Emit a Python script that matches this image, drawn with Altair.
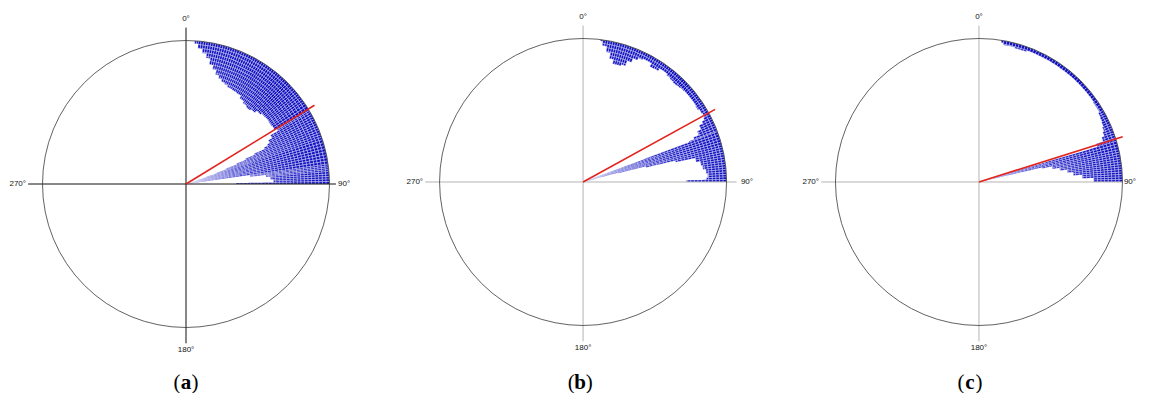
import altair as alt
import pandas as pd
import numpy as np

# ---------------- data ----------------
PANELS = ["a", "b", "c"]
DIR_LABELS = ["0°", "90°", "180°", "270°"]

# bin edges (degrees clockwise from north) and inner radius of the filled band
# (fraction of circle radius) for each bin; the band reaches the circle.
ANG_A = [3.5, 5, 7, 9, 11, 13, 15, 17, 19, 21, 23, 26, 29, 32, 35, 38, 41, 44, 47,
         50, 53, 56, 58.5, 60, 62, 64, 65, 66, 67, 68, 69, 70, 71, 72, 82, 83.5, 85,
         87, 89, 90]
RIN_A = [0.98, 0.95, 0.92, 0.89, 0.85, 0.82, 0.79, 0.77, 0.755, 0.745, 0.735, 0.73,
         0.725, 0.705, 0.69, 0.68, 0.69, 0.71, 0.72, 0.725, 0.72, 0.725, 0.74, 0.68,
         0.65, 0.63, 0.6, 0.52, 0.45, 0.38, 0.3, 0.22, 0.15, 0.03, 0.45, 0.56, 0.59,
         0.61, 0.35]

ANG_B = [7, 8, 10, 12, 14, 16, 18, 20, 22, 24, 26, 28, 30, 32, 34, 36, 38, 40, 42,
         44, 46, 48, 50, 52, 54, 56, 58, 60, 62, 63, 64, 66, 68, 69, 69.5, 75, 76,
         77, 78, 80, 82, 84, 86, 88, 89, 90]
RIN_B = [0.99, 0.96, 0.92, 0.88, 0.85, 0.85, 0.86, 0.9, 0.93, 0.945, 0.955, 0.955,
         0.93, 0.935, 0.955, 0.955, 0.945, 0.94, 0.935, 0.94, 0.945, 0.95, 0.95,
         0.95, 0.95, 0.945, 0.955, 0.96, 0.95, 0.93, 0.9, 0.87, 0.83, 0.79, 0.03,
         0.25, 0.45, 0.66, 0.8, 0.83, 0.84, 0.86, 0.87, 0.86, 0.72]

ANG_C = [9, 10, 15, 20, 30, 40, 50, 55, 60, 62, 64, 66, 68, 70, 72, 73.5, 77, 78,
         80, 82, 84, 86, 88, 90]
RIN_C = [0.985, 0.97, 0.965, 0.975, 0.975, 0.975, 0.975, 0.97, 0.96, 0.955, 0.95,
         0.94, 0.93, 0.91, 0.86, 0.03, 0.45, 0.52, 0.57, 0.62, 0.66, 0.72, 0.8]

MEAN_DIR = [58.5, 61.2, 72.5]   # red line direction (deg)

# ---------------- layout (pixels / units) ----------------
PX = 143.5                      # pixels per unit radius
W, H = 1133, 385
CX = [0.0, 2.767, 5.526]
CY = [0.0, 0.014, 0.014]
AX_RIGHT = [1.045, 1.07, 1.0]   # right end of horizontal axis line
LAB_RIGHT = [1.06, 1.10, 1.01]  # left edge of the 90° label
X0 = -(186 - 8) / PX
X1 = X0 + W / PX
Y1 = (184 - 8) / PX
Y0 = Y1 - H / PX
CELL_DEG = 1.25                 # texture grid of the dotted fill
CELL_R = 0.025

xs = alt.Scale(domain=[X0, X1], zero=False, nice=False)
ys = alt.Scale(domain=[Y0, Y1], zero=False, nice=False)
ts = alt.Scale(domain=[0, 360], range=[0, 2 * np.pi], zero=False, nice=False)
rs = alt.Scale(type="linear", domain=[0, 1], range=[0, PX], zero=True, nice=False)

# ---------------- tables ----------------
cell_rows = []
for p, ang, rin, cx, cy in zip(PANELS, [ANG_A, ANG_B, ANG_C], [RIN_A, RIN_B, RIN_C], CX, CY):
    for i in range(len(rin)):
        a0, a1 = ang[i], ang[i + 1]
        n = max(1, int(np.ceil((a1 - a0) / CELL_DEG - 1e-9)))
        tedges = [a0 + (a1 - a0) * k / n for k in range(n + 1)]
        redges = [1.0]
        while redges[-1] - CELL_R > rin[i] + 1e-9:
            redges.append(redges[-1] - CELL_R)
        redges.append(rin[i])
        for k in range(n):
            for j in range(len(redges) - 1):
                cell_rows.append(dict(panel=p, cx=cx, cy=cy, t0=tedges[k], t1=tedges[k + 1],
                                      rout=redges[j], rin=redges[j + 1]))
cells = pd.DataFrame(cell_rows)

circ = pd.DataFrame(dict(panel=PANELS, cx=CX, cy=CY, t0=[0] * 3, t1=[360] * 3, r=[1.0] * 3))

ax_rows = []
axcol = ["#111111", "#b4b4b4", "#b4b4b4"]
for p, cx, cy, c, ar in zip(PANELS, CX, CY, axcol, AX_RIGHT):
    ax_rows.append(dict(panel=p, x=cx - 1.10, y=cy, x2=cx + ar, y2=cy, col=c))
    ax_rows.append(dict(panel=p, x=cx, y=cy + 1.09, x2=cx, y2=cy - 1.11, col=c))
axes_df = pd.DataFrame(ax_rows)

red = pd.DataFrame(dict(
    panel=PANELS,
    x=CX, y=CY,
    x2=[cx + 1.05 * np.sin(np.radians(d)) for cx, d in zip(CX, MEAN_DIR)],
    y2=[cy + 1.05 * np.cos(np.radians(d)) for cy, d in zip(CY, MEAN_DIR)],
))

top_bot = pd.DataFrame(
    [dict(x=cx, y=cy + 1.15, t=DIR_LABELS[0]) for cx, cy in zip(CX, CY)] +
    [dict(x=cx, y=cy - 1.16, t=DIR_LABELS[2]) for cx, cy in zip(CX, CY)])
left_lab = pd.DataFrame([dict(x=cx - 1.115, y=cy, t=DIR_LABELS[3]) for cx, cy in zip(CX, CY)])
right_lab = pd.DataFrame([dict(x=cx + lr, y=cy, t=DIR_LABELS[1])
                          for cx, cy, lr in zip(CX, CY, LAB_RIGHT)])

cap = pd.DataFrame(dict(x=[0.0, 2.747, 5.463], y=[-1.39] * 3, t=PANELS))

# ---------------- marks ----------------
fill = alt.Chart(cells).mark_arc(color="#1010c2", stroke="white", strokeWidth=0.35).encode(
    x=alt.X("cx:Q", scale=xs, axis=None),
    y=alt.Y("cy:Q", scale=ys, axis=None),
    theta=alt.Theta("t0:Q", scale=ts, stack=None),
    theta2="t1:Q",
    radius=alt.Radius("rout:Q", scale=rs),
    radius2="rin:Q",
)

axes = alt.Chart(axes_df).mark_rule(strokeWidth=1).encode(
    x=alt.X("x:Q", scale=xs, axis=None), y=alt.Y("y:Q", scale=ys, axis=None),
    x2="x2:Q", y2="y2:Q", color=alt.Color("col:N", scale=None),
)

circle = alt.Chart(circ).mark_arc(filled=False, stroke="#3a3a3a", strokeWidth=0.8).encode(
    x=alt.X("cx:Q", scale=xs, axis=None),
    y=alt.Y("cy:Q", scale=ys, axis=None),
    theta=alt.Theta("t0:Q", scale=ts, stack=None),
    theta2="t1:Q",
    radius=alt.Radius("r:Q", scale=rs),
)

redline = alt.Chart(red).mark_rule(color="#e3231d", strokeWidth=1.6).encode(
    x=alt.X("x:Q", scale=xs, axis=None), y=alt.Y("y:Q", scale=ys, axis=None),
    x2="x2:Q", y2="y2:Q",
)

lab_style = dict(font="Liberation Sans", fontSize=8, color="#111111", baseline="middle")
t1 = alt.Chart(top_bot).mark_text(align="center", **lab_style).encode(
    x=alt.X("x:Q", scale=xs, axis=None), y=alt.Y("y:Q", scale=ys, axis=None), text="t:N")
t2 = alt.Chart(left_lab).mark_text(align="right", **lab_style).encode(
    x=alt.X("x:Q", scale=xs, axis=None), y=alt.Y("y:Q", scale=ys, axis=None), text="t:N")
t3 = alt.Chart(right_lab).mark_text(align="left", **lab_style).encode(
    x=alt.X("x:Q", scale=xs, axis=None), y=alt.Y("y:Q", scale=ys, axis=None), text="t:N")

cap_style = dict(font="Liberation Serif", fontSize=21, color="#000000", baseline="middle")
c_letter = alt.Chart(cap).mark_text(align="center", fontWeight="bold", **cap_style).encode(
    x=alt.X("x:Q", scale=xs, axis=None), y=alt.Y("y:Q", scale=ys, axis=None), text="t:N")
c_left = alt.Chart(cap).mark_text(align="right", dx=-5.5, text="(", **cap_style).encode(
    x=alt.X("x:Q", scale=xs, axis=None), y=alt.Y("y:Q", scale=ys, axis=None))
c_right = alt.Chart(cap).mark_text(align="left", dx=5.5, text=")", **cap_style).encode(
    x=alt.X("x:Q", scale=xs, axis=None), y=alt.Y("y:Q", scale=ys, axis=None))

chart = alt.layer(fill, axes, circle, redline, t1, t2, t3, c_letter, c_left, c_right).properties(
    width=W, height=H, autosize=alt.AutoSizeParams(type="none"), padding=0,
).configure_view(stroke=None)

chart.save("out.html", embed_options={"renderer": "svg", "actions": False})
